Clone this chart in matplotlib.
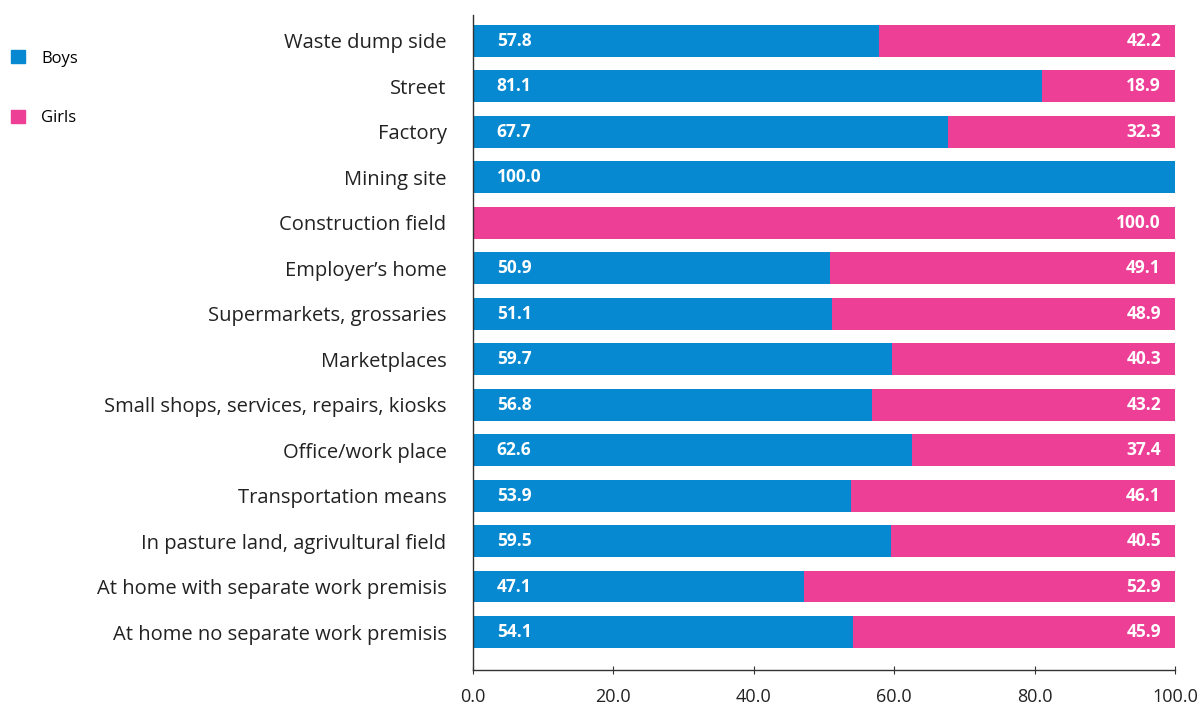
import matplotlib.pyplot as plt
from matplotlib.patches import Patch
import numpy as np

plt.rcParams['font.family'] = ['Open Sans', 'DejaVu Sans']

categories = [
    "Waste dump side",
    "Street",
    "Factory",
    "Mining site",
    "Construction field",
    "Employer\u2019s home",
    "Supermarkets, grossaries",
    "Marketplaces",
    "Small shops, services, repairs, kiosks",
    "Office/work place",
    "Transportation means",
    "In pasture land, agrivultural field",
    "At home with separate work premisis",
    "At home no separate work premisis",
]
boys = [57.8, 81.1, 67.7, 100.0, 0.0, 50.9, 51.1, 59.7, 56.8, 62.6, 53.9, 59.5, 47.1, 54.1]
girls = [42.2, 18.9, 32.3, 0.0, 100.0, 49.1, 48.9, 40.3, 43.2, 37.4, 46.1, 40.5, 52.9, 45.9]
xticks = [0, 20, 40, 60, 80, 100]

blue = '#0689d0'
pink = '#ee3f97'

fig = plt.figure(figsize=(12.01, 7.09), dpi=100)
ax = fig.add_axes([473 / 1201, 1 - 670 / 709, 702 / 1201, 655 / 709])

y = np.arange(len(categories))
ax.barh(y, boys, height=0.7, color=blue)
ax.barh(y, girls, left=boys, height=0.7, color=pink)

for i in range(len(categories)):
    if boys[i] > 0:
        ax.text(3.4, y[i], f"{boys[i]:.1f}", color='white', fontsize=12.5,
                fontweight='bold', va='center', ha='left')
    if girls[i] > 0:
        ax.text(98.0, y[i], f"{girls[i]:.1f}", color='white', fontsize=12.5,
                fontweight='bold', va='center', ha='right')

ax.set_xlim(0, 100)
ax.set_ylim(len(categories) - 1 + 0.835, -0.57)
ax.set_yticks(y)
ax.set_yticklabels(categories, fontsize=14.5, color='#222222')
ax.tick_params(axis='y', length=0, pad=19)
ax.set_xticks(xticks)
ax.set_xticklabels([f"{v:.1f}" for v in xticks], fontsize=13, color='#222222')
ax.tick_params(axis='x', direction='inout', length=6, pad=10, color='#333333')

for s in ['top', 'right']:
    ax.spines[s].set_visible(False)
for s in ['left', 'bottom']:
    ax.spines[s].set_color('#333333')
    ax.spines[s].set_linewidth(1.0)

handles = [Patch(color=blue, label='Boys'), Patch(color=pink, label='Girls')]
fig.legend(handles=handles, loc='upper left', bbox_to_anchor=(-0.003, 0.95),
           frameon=False, fontsize=12, handlelength=0.8, handleheight=0.8,
           labelspacing=2.6, handletextpad=1.0)

fig.savefig('out.png', dpi=100)
